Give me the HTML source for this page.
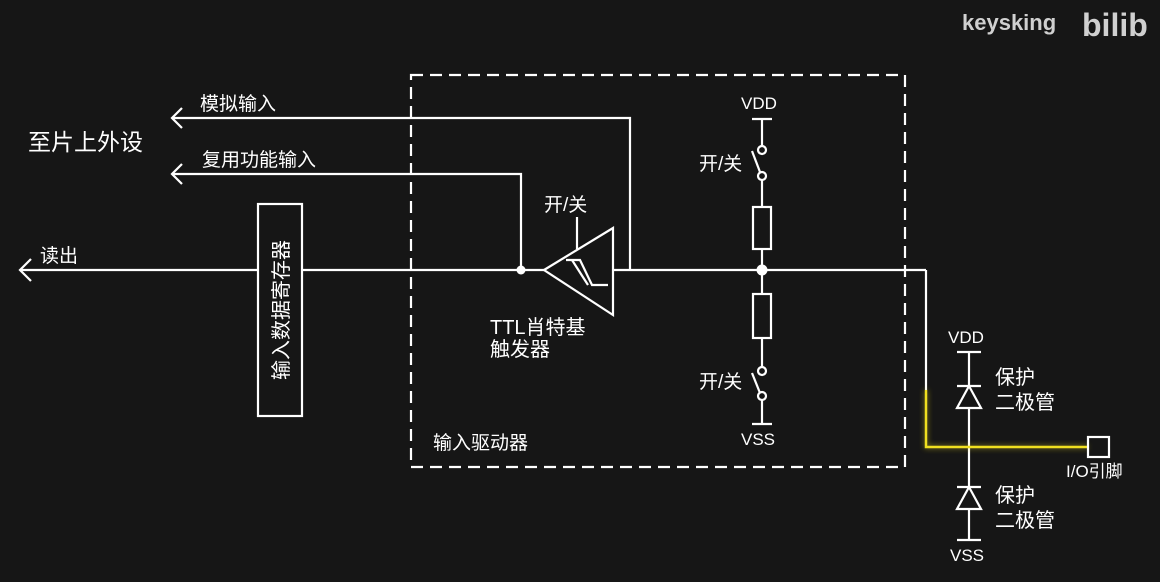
<!DOCTYPE html>
<html><head><meta charset="utf-8"><style>
html,body{margin:0;padding:0;background:#161616;}
svg{display:block;}
text{font-family:"Liberation Sans","Noto Sans CJK SC",sans-serif;fill:#fff;}
</style></head><body>
<svg width="1160" height="582" viewBox="0 0 1160 582" xmlns="http://www.w3.org/2000/svg">
<rect width="1160" height="582" fill="#161616"/>
<defs><filter id="g" x="-20%" y="-20%" width="140%" height="140%"><feGaussianBlur stdDeviation="3"/></filter></defs>
<text x="962" y="30" font-size="22" font-weight="bold" style="fill:#d0d0d0">keysking</text>
<text x="1082" y="36" font-size="32" font-weight="bold" style="fill:#d0d0d0">bilib</text>
<g stroke="#fff" stroke-width="2.2" fill="none">
<rect x="411" y="75" width="494" height="392" stroke-dasharray="12,7"/>
<polyline points="172,118 630,118 630,270"/>
<polyline points="182,108 172,118 182,128"/>
<polyline points="172,174 521,174 521,270"/>
<polyline points="182,164 172,174 182,184"/>
<line x1="20" y1="270" x2="545" y2="270"/>
<polyline points="31,259 20,270 31,281"/>
<line x1="613" y1="270" x2="926" y2="270"/>
<rect x="258" y="204" width="44" height="212" fill="#161616"/>
<polygon points="544,270 613,228 613,315"/>
<line x1="577" y1="217" x2="577" y2="249"/>
<polyline points="566,260 580,260 592,285 608,285"/>
<polyline points="572,260 588,285"/>
<line x1="752" y1="119" x2="772" y2="119"/>
<line x1="762" y1="119" x2="762" y2="146"/>
<circle cx="762" cy="150" r="4"/>
<line x1="752" y1="151" x2="760" y2="172"/>
<circle cx="762" cy="176" r="4"/>
<line x1="762" y1="180" x2="762" y2="207"/>
<rect x="753" y="207" width="18" height="42"/>
<line x1="762" y1="249" x2="762" y2="294"/>
<rect x="753" y="294" width="18" height="44"/>
<line x1="762" y1="338" x2="762" y2="367"/>
<circle cx="762" cy="371" r="4"/>
<line x1="752" y1="373" x2="760" y2="393"/>
<circle cx="762" cy="396" r="4"/>
<line x1="762" y1="400" x2="762" y2="424"/>
<line x1="752" y1="424" x2="772" y2="424"/>
<line x1="926" y1="270" x2="926" y2="390"/>
<line x1="957" y1="352" x2="981" y2="352"/>
<line x1="969" y1="352" x2="969" y2="540"/>
<line x1="957" y1="386" x2="981" y2="386"/>
<polygon points="969,386 957,408 981,408" fill="#161616"/>
<line x1="957" y1="487" x2="981" y2="487"/>
<polygon points="969,487 957,509 981,509" fill="#161616"/>
<line x1="957" y1="540" x2="981" y2="540"/>
</g>
<g stroke="#f0e020" stroke-width="2.5" fill="none">
<polyline points="926,390 926,447 1088,447" filter="url(#g)" opacity="0.6"/>
<polyline points="926,390 926,447 1088,447"/>
</g>
<rect x="1088" y="437" width="21" height="20" fill="none" stroke="#fff" stroke-width="2.2"/>
<g fill="#fff">
<circle cx="521" cy="270" r="4.5"/>
<circle cx="762" cy="270" r="5.5"/>
</g>
<text x="200" y="110" font-size="19">模拟输入</text>
<text x="28" y="150" font-size="23">至片上外设</text>
<text x="202" y="166" font-size="19">复用功能输入</text>
<text x="40" y="262" font-size="19">读出</text>
<text transform="translate(288,310) rotate(-90)" font-size="20" text-anchor="middle">输入数据寄存器</text>
<text x="544" y="211" font-size="19">开/关</text>
<text x="490" y="334" font-size="20">TTL肖特基</text>
<text x="490" y="356" font-size="20">触发器</text>
<text x="741" y="109" font-size="17">VDD</text>
<text x="699" y="170" font-size="19">开/关</text>
<text x="699" y="388" font-size="19">开/关</text>
<text x="741" y="445" font-size="17">VSS</text>
<text x="433" y="449" font-size="19">输入驱动器</text>
<text x="948" y="343" font-size="17">VDD</text>
<text x="995" y="384" font-size="20">保护</text>
<text x="995" y="409" font-size="20">二极管</text>
<text x="1066" y="477" font-size="17">I/O引脚</text>
<text x="995" y="502" font-size="20">保护</text>
<text x="995" y="527" font-size="20">二极管</text>
<text x="950" y="561" font-size="17">VSS</text>
</svg>
</body></html>
